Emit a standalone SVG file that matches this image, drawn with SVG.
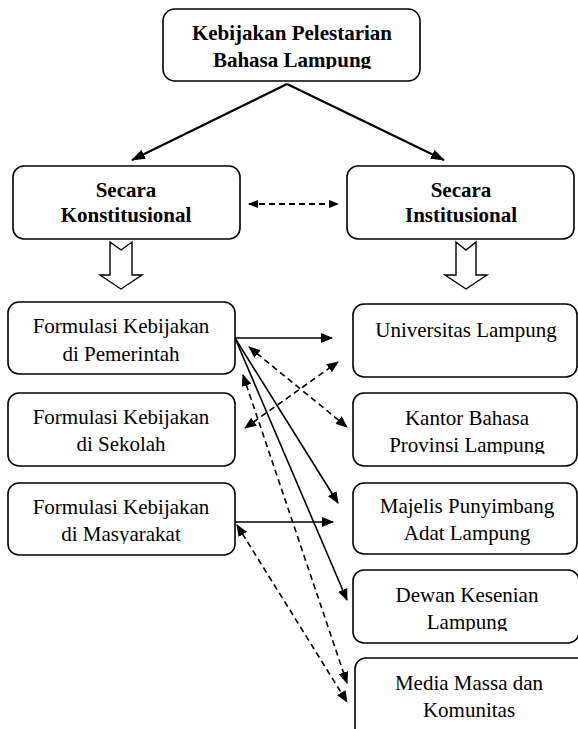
<svg xmlns="http://www.w3.org/2000/svg" width="578" height="729" viewBox="0 0 578 729">
<style>
.box{fill:#fff;stroke:#000;stroke-width:1.6}
.t{font-family:"Liberation Serif","Times New Roman",serif;font-size:21px;fill:#000;text-anchor:middle}
.b{font-weight:bold}
.c{fill:none;stroke:#000;stroke-width:1.6}
.d{stroke-dasharray:6 4}
.blk{fill:#fff;stroke:#000;stroke-width:1.4;stroke-linejoin:miter}
</style>
<defs>
<marker id="ah" viewBox="0 0 12 10" refX="11" refY="5" markerWidth="12" markerHeight="10" markerUnits="userSpaceOnUse" orient="auto-start-reverse"><path d="M0,0 L12,5 L0,10 z" fill="#000"/></marker>
<marker id="ahL" viewBox="0 0 14 10" refX="13" refY="5" markerWidth="14" markerHeight="10" markerUnits="userSpaceOnUse" orient="auto-start-reverse"><path d="M0,0 L14,5 L0,10 z" fill="#000"/></marker>
<marker id="ahS" viewBox="0 0 10 8" refX="9" refY="4" markerWidth="10" markerHeight="8" markerUnits="userSpaceOnUse" orient="auto-start-reverse"><path d="M0,0 L10,4 L0,8 z" fill="#000"/></marker>
<clipPath id="cTop"><rect x="150" y="0" width="280" height="69"/></clipPath>
<clipPath id="cKan"><rect x="350" y="390" width="230" height="64"/></clipPath>
<clipPath id="cMaj"><rect x="350" y="480" width="230" height="65"/></clipPath>
<clipPath id="cDew"><rect x="350" y="566" width="230" height="65"/></clipPath>
<clipPath id="cMas"><rect x="0" y="480" width="240" height="64"/></clipPath>
</defs>

<g id="connectors">
<line class="c" style="stroke-width:2.2" x1="287" y1="84" x2="132" y2="160" marker-end="url(#ahL)"/>
<line class="c" style="stroke-width:2.2" x1="287" y1="84" x2="444" y2="160" marker-end="url(#ahL)"/>
<line class="c d" style="stroke-width:1.8" x1="249" y1="204" x2="338" y2="204" marker-start="url(#ahS)" marker-end="url(#ahS)"/>
<path class="blk" d="M110,242 L121,250 L132,242 L132,275 L142,275 L121,289 L100,275 L110,275 Z"/>
<path class="blk" d="M456,242 L466,250 L476,242 L476,275 L487,275 L466,289 L445,275 L456,275 Z"/>
<line class="c" x1="235" y1="338" x2="332" y2="338" marker-end="url(#ah)"/>
<line class="c d" x1="249" y1="347" x2="347" y2="427" marker-start="url(#ah)" marker-end="url(#ah)"/>
<line class="c d" x1="245" y1="428" x2="338" y2="362" marker-start="url(#ah)" marker-end="url(#ah)"/>
<line class="c" x1="235" y1="338" x2="338" y2="503" marker-end="url(#ah)"/>
<line class="c" x1="235" y1="338" x2="347" y2="600" marker-end="url(#ah)"/>
<line class="c d" x1="243" y1="375" x2="347" y2="683" marker-start="url(#ah)" marker-end="url(#ah)"/>
<line class="c" x1="235" y1="522" x2="333" y2="522" marker-end="url(#ah)"/>
<line class="c d" x1="237" y1="525" x2="347" y2="702" marker-start="url(#ah)" marker-end="url(#ah)"/>
</g>

<g id="n-top">
<rect class="box" x="163" y="9" width="257" height="72" rx="12"/>
<g clip-path="url(#cTop)">
<text class="t b" x="292" y="40">Kebijakan Pelestarian</text>
<text class="t b" x="292" y="67">Bahasa Lampung</text>
</g>
</g>

<g id="n-konstitusional">
<rect class="box" x="13" y="166" width="227" height="73" rx="11"/>
<text class="t b" x="126" y="197">Secara</text>
<text class="t b" x="126" y="222">Konstitusional</text>
</g>

<g id="n-institusional">
<rect class="box" x="347" y="166" width="227" height="73" rx="11"/>
<text class="t b" x="461" y="197">Secara</text>
<text class="t b" x="461" y="222">Institusional</text>
</g>

<g id="n-pemerintah">
<rect class="box" x="8" y="302" width="227" height="72" rx="11"/>
<text class="t" x="121" y="333">Formulasi Kebijakan</text>
<text class="t" x="121" y="361">di Pemerintah</text>
</g>

<g id="n-sekolah">
<rect class="box" x="8" y="393" width="227" height="73" rx="11"/>
<text class="t" x="121" y="424">Formulasi Kebijakan</text>
<text class="t" x="121" y="451">di Sekolah</text>
</g>

<g id="n-masyarakat">
<rect class="box" x="8" y="483" width="227" height="72" rx="11"/>
<g clip-path="url(#cMas)">
<text class="t" x="121" y="514">Formulasi Kebijakan</text>
<text class="t" x="121" y="541">di Masyarakat</text>
</g>
</g>

<g id="n-universitas">
<rect class="box" x="353" y="304" width="224" height="73" rx="11"/>
<text class="t" x="466" y="337">Universitas Lampung</text>
</g>

<g id="n-kantor">
<rect class="box" x="353" y="393" width="224" height="73" rx="11"/>
<g clip-path="url(#cKan)">
<text class="t" x="467" y="425">Kantor Bahasa</text>
<text class="t" x="467" y="452">Provinsi Lampung</text>
</g>
</g>

<g id="n-majelis">
<rect class="box" x="353" y="483" width="224" height="71" rx="11"/>
<g clip-path="url(#cMaj)">
<text class="t" x="467" y="513">Majelis Punyimbang</text>
<text class="t" x="467" y="540">Adat Lampung</text>
</g>
</g>

<g id="n-dewan">
<rect class="box" x="353" y="570" width="226" height="73" rx="11"/>
<g clip-path="url(#cDew)">
<text class="t" x="467" y="602">Dewan Kesenian</text>
<text class="t" x="467" y="629">Lampung</text>
</g>
</g>

<g id="n-media">
<rect class="box" x="355" y="658" width="240" height="90" rx="11"/>
<text class="t" x="469" y="690">Media Massa dan</text>
<text class="t" x="469" y="717">Komunitas</text>
</g>
</svg>
